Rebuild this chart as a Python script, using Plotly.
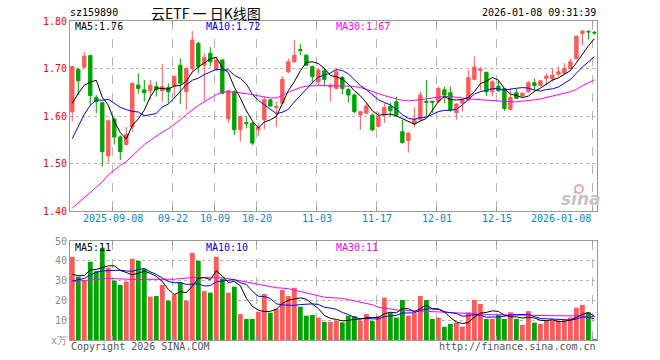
import plotly.graph_objects as go

W, H = 660, 360

# ---------------- data ----------------
opens = [1.609, 1.698, 1.703, 1.727, 1.639, 1.628, 1.516, 1.593, 1.556, 1.540,
         1.577, 1.665, 1.655, 1.653, 1.662, 1.653, 1.660, 1.663, 1.707, 1.651,
         1.700, 1.753, 1.707, 1.732, 1.697, 1.718, 1.594, 1.651, 1.571, 1.586,
         1.585, 1.571, 1.592, 1.634, 1.618, 1.627, 1.693, 1.714, 1.740, 1.728,
         1.704, 1.672, 1.695, 1.661, 1.658, 1.681, 1.656, 1.644, 1.602, 1.606,
         1.602, 1.578, 1.602, 1.620, 1.630, 1.567, 1.548, 1.583, 1.592, 1.631,
         1.631, 1.630, 1.655, 1.649, 1.607, 1.627, 1.634, 1.677, 1.696, 1.692,
         1.651, 1.663, 1.658, 1.614, 1.649, 1.642, 1.651, 1.670, 1.664, 1.679,
         1.678, 1.688, 1.690, 1.700, 1.721, 1.774, 1.778, 1.776]
closes = [1.704, 1.674, 1.726, 1.643, 1.630, 1.525, 1.590, 1.556, 1.525, 1.561,
          1.669, 1.658, 1.649, 1.665, 1.655, 1.662, 1.651, 1.683, 1.669, 1.700,
          1.760, 1.704, 1.723, 1.714, 1.718, 1.648, 1.653, 1.571, 1.599, 1.584,
          1.543, 1.576, 1.635, 1.621, 1.620, 1.677, 1.714, 1.728, 1.738, 1.707,
          1.683, 1.697, 1.677, 1.663, 1.693, 1.658, 1.644, 1.609, 1.609, 1.621,
          1.571, 1.599, 1.618, 1.611, 1.602, 1.544, 1.564, 1.593, 1.644, 1.629,
          1.629, 1.658, 1.644, 1.613, 1.625, 1.634, 1.681, 1.703, 1.698, 1.651,
          1.672, 1.653, 1.616, 1.639, 1.637, 1.648, 1.670, 1.664, 1.674, 1.684,
          1.686, 1.693, 1.700, 1.714, 1.768, 1.779, 1.777, 1.775]
highs = [1.705, 1.701, 1.735, 1.729, 1.644, 1.630, 1.592, 1.596, 1.559, 1.577,
         1.670, 1.690, 1.676, 1.676, 1.672, 1.709, 1.669, 1.686, 1.721, 1.703,
         1.779, 1.756, 1.732, 1.745, 1.725, 1.720, 1.655, 1.655, 1.601, 1.599,
         1.588, 1.585, 1.642, 1.636, 1.630, 1.683, 1.721, 1.760, 1.752, 1.730,
         1.706, 1.700, 1.700, 1.669, 1.700, 1.684, 1.660, 1.648, 1.611, 1.627,
         1.604, 1.609, 1.628, 1.628, 1.641, 1.592, 1.566, 1.618, 1.651, 1.676,
         1.632, 1.662, 1.662, 1.662, 1.627, 1.636, 1.697, 1.725, 1.704, 1.693,
         1.676, 1.674, 1.659, 1.658, 1.658, 1.650, 1.674, 1.679, 1.676, 1.690,
         1.700, 1.704, 1.711, 1.721, 1.769, 1.780, 1.781, 1.779]
lows = [1.588, 1.644, 1.700, 1.623, 1.606, 1.493, 1.502, 1.540, 1.507, 1.538,
        1.566, 1.647, 1.630, 1.634, 1.641, 1.630, 1.627, 1.637, 1.625, 1.613,
        1.693, 1.690, 1.630, 1.704, 1.695, 1.645, 1.585, 1.560, 1.546, 1.574,
        1.539, 1.558, 1.572, 1.619, 1.577, 1.625, 1.690, 1.712, 1.728, 1.705,
        1.669, 1.665, 1.662, 1.630, 1.656, 1.646, 1.628, 1.606, 1.571, 1.604,
        1.568, 1.576, 1.585, 1.599, 1.599, 1.542, 1.523, 1.576, 1.590, 1.599,
        1.606, 1.628, 1.627, 1.609, 1.592, 1.609, 1.632, 1.675, 1.655, 1.642,
        1.641, 1.652, 1.611, 1.612, 1.636, 1.640, 1.649, 1.653, 1.662, 1.664,
        1.672, 1.683, 1.688, 1.698, 1.719, 1.749, 1.761, 1.771]
volumes = [42, 32, 29.8, 39.5, 34.8, 46.6, 36.5, 30, 27.8, 29.5,
           41, 40, 35.9, 21.9, 22.2, 27.8, 19.9, 23, 29.1, 19.9,
           44, 40, 24.7, 23.9, 42, 31, 23.9, 26.9, 13.1, 10.6,
           10.6, 14.3, 23.2, 13.8, 15.7, 25.3, 22.2, 26.4, 16.8, 12.3,
           12.6, 11.3, 9.2, 9.2, 9.7, 8.9, 12.3, 12.1, 9.8, 13.1,
           9.6, 12.1, 21.4, 14, 11.3, 20.2, 12.3, 13.5, 22.2, 20.2,
           10.6, 11.3, 6.7, 8.1, 8.8, 6.7, 14, 20.2, 18.2, 10.6,
           10.6, 12.6, 10.6, 14, 10.6, 7.6, 14.6, 8.8, 8.1, 9.8,
           9.8, 9.8, 9.8, 11.3, 16.3, 17.7, 14, 0.5]
# closes / volumes of the 9 sessions before the window (for MA5 / MA10)
prev_closes = [1.42, 1.47, 1.45, 1.52, 1.53, 1.57, 1.64, 1.61, 1.61]
prev_volumes = [24, 24.8, 22.5, 20.8, 39.9, 35.5, 29.8, 25, 33.7]
# 30-day moving averages
ma30_price = [1.406, 1.417, 1.428, 1.440, 1.450, 1.461, 1.476, 1.487, 1.496, 1.504,
              1.516, 1.530, 1.540, 1.549, 1.558, 1.566, 1.573, 1.582, 1.592, 1.603,
              1.613, 1.622, 1.630, 1.637, 1.645, 1.650, 1.651, 1.650, 1.649, 1.647,
              1.645, 1.642, 1.640, 1.638, 1.638, 1.643, 1.650, 1.655, 1.660, 1.663,
              1.664, 1.664, 1.664, 1.664, 1.664, 1.664, 1.663, 1.662, 1.660, 1.656,
              1.651, 1.647, 1.643, 1.639, 1.636, 1.633, 1.632, 1.633, 1.634, 1.636,
              1.638, 1.640, 1.641, 1.641, 1.640, 1.638, 1.636, 1.635, 1.634, 1.634,
              1.633, 1.632, 1.631, 1.630, 1.630, 1.631, 1.633, 1.634, 1.636, 1.639,
              1.641, 1.644, 1.647, 1.651, 1.656, 1.664, 1.670, 1.676]
ma30_vol = [29.5, 29.8, 30.1, 30.5, 30.8, 31.0, 31.1, 31.0, 30.8, 30.6,
            30.6, 30.6, 30.6, 30.6, 30.6, 30.6, 30.6, 30.7, 31.0, 31.3,
            31.5, 31.5, 31.5, 31.5, 31.5, 31.4, 31.0, 30.5, 29.9, 29.3,
            28.7, 28.1, 27.5, 27.0, 26.4, 26.2, 25.9, 25.2, 24.5, 23.8,
            23.0, 22.3, 21.6, 21.4, 21.2, 21.0, 20.4, 19.8, 19.3, 18.5,
            17.8, 16.5, 16.0, 15.6, 15.2, 15.0, 14.8, 14.6, 14.5, 14.4,
            14.3, 14.2, 14.0, 14.0, 13.8, 13.6, 13.4, 13.2, 13.0, 12.9,
            12.8, 12.8, 12.7, 12.6, 12.6, 12.5, 12.5, 12.4, 12.4, 12.3,
            12.3, 12.2, 12.2, 12.1, 12.1, 12.1, 12.0, 11.8]
tick_idx = [7, 17, 24, 31, 41, 51, 61, 71, 87]
tick_labels = ["2025-09-08", "09-22", "10-09", "10-20", "11-03",
               "11-17", "12-01", "12-15", "2026-01-08"]
price_ticks = [1.40, 1.50, 1.60, 1.70, 1.80]
vol_ticks = [0, 10, 20, 30, 40, 50]
vol_tick_text = ["x万", "10", "20", "30", "40", "50"]
legend_price = ["MA5:1.76", "MA10:1.72", "MA30:1.67"]
legend_vol = ["MA5:11", "MA10:10", "MA30:11"]
code_text = "sz159890"
title_text = "云ETF\u00a0一\u00a0日K线图"
time_text = "2026-01-08 09:31:39"

# ---------------- derived ----------------
n = len(closes)
xs = list(range(n))


def moving(prev, vals, w):
    full = prev + vals
    off = len(prev)
    return [sum(full[i + off - w + 1:i + off + 1]) / w for i in range(len(vals))]


ma5_p = moving(prev_closes, closes, 5)
ma10_p = moving(prev_closes, closes, 10)
ma5_v = moving(prev_volumes, volumes, 5)
ma10_v = moving(prev_volumes, volumes, 10)

RED = "#ff5a5a"
GREEN = "#00a400"
bar_colors = [RED if c >= o else GREEN for o, c in zip(opens, closes)]

# pixel geometry helpers
L, R = 70, 597
PT, PB = 21, 211
VT, VB = 241, 340


def px(x):
    return x / W


def py(y):
    return 1 - y / H


FONT = "DejaVu Sans Mono"
GRID = "#b4b4b4"
FRAME = "#9a9a9a"

fig = go.Figure()
fig.add_trace(go.Candlestick(
    x=xs, open=opens, high=highs, low=lows, close=closes,
    increasing=dict(line=dict(color=RED, width=1), fillcolor=RED),
    decreasing=dict(line=dict(color=GREEN, width=1), fillcolor=GREEN),
    whiskerwidth=0, xaxis="x", yaxis="y", showlegend=False, hoverinfo="skip"))
for vals, col in [(ma30_price, "#ff00ff"), (ma10_p, "#0000ff"), (ma5_p, "#000000")]:
    fig.add_trace(go.Scatter(x=xs, y=vals, mode="lines", line=dict(color=col, width=1),
                             xaxis="x", yaxis="y", showlegend=False, hoverinfo="skip"))

fig.add_trace(go.Bar(x=xs, y=volumes, marker=dict(color=bar_colors, line=dict(width=0)),
                     width=0.8, xaxis="x2", yaxis="y2", showlegend=False, hoverinfo="skip"))
for vals, col in [(ma30_vol, "#ff00ff"), (ma10_v, "#0000ff"), (ma5_v, "#000000")]:
    fig.add_trace(go.Scatter(x=xs, y=vals, mode="lines", line=dict(color=col, width=1),
                             xaxis="x2", yaxis="y2", showlegend=False, hoverinfo="skip"))

xcommon = dict(domain=[px(L), px(R)], range=[-0.38, 87.43],
               tickvals=[t - 0.28 for t in tick_idx], showticklabels=False,
               showgrid=True, gridcolor=GRID, griddash="dash", gridwidth=1,
               ticks="inside", ticklen=4, tickcolor=FRAME,
               showline=True, linecolor=FRAME, linewidth=1, mirror="ticks",
               zeroline=False, fixedrange=True, automargin=False)

fig.update_layout(
    width=W, height=H, autosize=False,
    margin=dict(l=0, r=0, t=0, b=0, pad=0, autoexpand=False),
    paper_bgcolor="white", plot_bgcolor="white",
    boxgap=0.2, bargap=0.2,
    xaxis=dict(**xcommon, anchor="y", rangeslider=dict(visible=False)),
    xaxis2=dict(**xcommon, anchor="y2", matches="x"),
    yaxis=dict(domain=[py(PB), py(PT)], range=[1.40, 1.80],
               tickvals=price_ticks, ticktext=["%.2f" % v for v in price_ticks],
               tickfont=dict(family=FONT, size=10, color="#ff0000"),
               showgrid=True, gridcolor=GRID, griddash="dot",
               showline=True, linecolor=FRAME, linewidth=1, mirror=True,
               ticks="", zeroline=False, fixedrange=True, anchor="x",
               automargin=False),
    yaxis2=dict(domain=[py(VB), py(VT)], range=[0, 50],
                tickvals=vol_ticks, ticktext=vol_tick_text,
                tickfont=dict(family=FONT, size=10, color="#8c8c8c"),
                showgrid=True, gridcolor=GRID, griddash="dot",
                showline=True, linecolor=FRAME, linewidth=1, mirror=True,
                ticks="", zeroline=False, fixedrange=True, anchor="x2",
                automargin=False),
)

ann = []


def text(x, y, s, color="#000", size=10, anchor="left", family=FONT, **kw):
    ann.append(dict(x=px(x), y=py(y), xref="paper", yref="paper", text=s,
                    showarrow=False, xanchor=anchor, yanchor="middle",
                    font=dict(family=family, size=size, color=color), **kw))


text(68, 13, code_text)
text(149, 13, title_text, size=14, family="Noto Sans CJK SC")
text(598, 13, time_text, anchor="right")

leg_cols = ["#000000", "#0000ff", "#ff00ff"]
for s, x0, c in zip(legend_price, [73, 204, 334], leg_cols):
    text(x0, 27, s, color=c)
for s, x0, c in zip(legend_vol, [73, 204, 334], leg_cols):
    text(x0, 247, s, color=c)

for i, (t, lab) in enumerate(zip(tick_idx, tick_labels)):
    ann.append(dict(x=t - 0.28, y=py(219), xref="x", yref="paper", text=lab,
                    showarrow=False, xanchor="right" if i == len(tick_idx) - 1 else "center",
                    yanchor="middle", font=dict(family=FONT, size=10, color="#0a86d0")))

text(69, 346, "Copyright 2026 SINA.COM", color="#555555")
text(598, 346, "http://finance.sina.com.cn", color="#555555", anchor="right")
text(581, 199, "<b><i>sina</i></b>", color="#c4c4c4", size=17, anchor="center",
     family="DejaVu Sans")
fig.update_layout(annotations=ann)
fig.add_shape(type="circle", xref="paper", yref="paper",
              x0=px(575), x1=px(583), y0=py(193), y1=py(185),
              line=dict(color="#f4a6a6", width=2), fillcolor="rgba(0,0,0,0)")

fig.write_html("out.html", config={"displayModeBar": False, "staticPlot": True},
               post_script="document.body.style.margin='0';"
                           "document.body.style.padding='0';"
                           "document.body.style.overflow='hidden';")
